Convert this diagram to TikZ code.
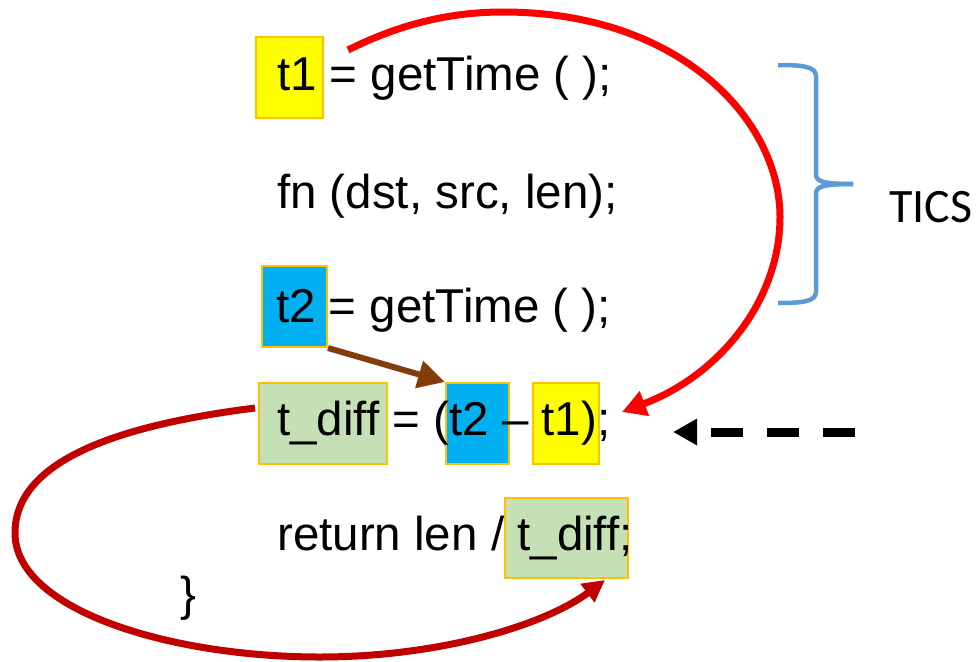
\documentclass[tikz,border=0pt]{standalone}
\usepackage{fontspec}
\setmainfont{Liberation Sans}
\newfontfamily\ticsfont{Carlito}
\usetikzlibrary{arrows.meta}
\definecolor{boxedge}{HTML}{FFC000}
\definecolor{tyellow}{HTML}{FFFF00}
\definecolor{tblue}{HTML}{00B0F0}
\definecolor{tgreen}{HTML}{C5E0B4}
\definecolor{redline}{HTML}{FF0000}
\definecolor{darkredline}{HTML}{C00000}
\definecolor{brownline}{HTML}{843C0C}
\definecolor{bracecol}{HTML}{5B9BD5}
\begin{document}
\begin{tikzpicture}[x=1pt,y=-1pt,
  vbox/.style={draw=boxedge, line width=2pt, inner sep=0pt, minimum height=81pt},
  code/.style={anchor=base west, inner sep=0pt, font=\fontsize{47.5pt}{57pt}\selectfont},
  bracestyle/.style={draw=bracecol, line width=4.5pt},
  redarrow/.style={draw=redline, line width=7pt, -{Triangle[length=24pt,width=25pt]}},
  darkarrow/.style={draw=darkredline, line width=7pt, -{Triangle[length=22pt,width=22pt]}},
  brownarrow/.style={draw=brownline, line width=6pt, -{Triangle[length=27pt,width=27pt]}},
  dasharrow/.style={draw=black, line width=9pt, dash pattern=on 32pt off 24pt, -{Triangle[length=24pt,width=25pt]}}
]
\useasboundingbox (0,0) rectangle (979,661);

% highlight boxes
\node[vbox, fill=tyellow, minimum width=67pt] (t1box) at (289.5,77.5) {};
\node[vbox, fill=tblue, minimum width=65pt] (t2box) at (294.5,306.5) {};
\node[vbox, fill=tgreen, minimum width=128pt] (tdbox) at (323,423.5) {};
\node[vbox, fill=tblue, minimum width=63pt] (t2b) at (477.5,423.5) {};
\node[vbox, fill=tyellow, minimum width=66pt] (t1b) at (566,423.5) {};
\node[vbox, fill=tgreen, minimum width=123pt, minimum height=80pt] (td2) at (566.5,538) {};

% code lines
\node[code] (l1) at (277,90) {t1 = getTime ( );};
\node[code] (l2) at (277,208) {fn (dst, src, len);};
\node[code] (l3) at (276,322) {t2 = getTime ( );};
\node[code] (l4) at (277,435) {t\_diff = (t2 \textendash{} t1);};
\node[code] (l5) at (277,550) {return len / t\_diff;};
\node[code] (l6) at (180,610) {\}};

% TICS label and brace
\node[anchor=base west, inner sep=0pt, font=\ticsfont\fontsize{48pt}{57pt}\selectfont] (tics) at (889,222) {TICS};
\draw[bracestyle] (778,65) .. controls (800,65) and (816,66) .. (816,76) -- (816,174) .. controls (816,181) and (821,184) .. (853,184);
\draw[bracestyle] (853,184) .. controls (821,184) and (816,187) .. (816,194) -- (816,292) .. controls (816,302) and (800,303) .. (778,303);

% red arrow from t1 to the difference line
\coordinate (rs) at (348,50);
\coordinate (rtop) at (503,12);
\coordinate (rright) at (780,217);
\coordinate (re) at (622,412);
\draw[redarrow] (rs) .. controls (400,24) and (450,12) .. (rtop) .. controls (680,12) and (780,120) .. (rright) .. controls (780,300) and (720,375) .. (re);

% brown arrow from t2 to t2 in the difference
\draw[brownarrow] (t2box.south east) -- (t2b.north west);

% dark red loop from t_diff to return
\coordinate (ds) at (255,408);
\coordinate (dl) at (15,533);
\coordinate (db) at (320,657);
\coordinate (de) at (605,580);
\draw[darkarrow] (ds) .. controls (120,425) and (15,460) .. (dl) .. controls (15,610) and (170,657) .. (db) .. controls (440,657) and (545,625) .. (de);

% dashed pointer
\coordinate (dashs) at (855,432);
\coordinate (dashe) at (673,432);
\draw[dasharrow] (dashs) -- (dashe);
\end{tikzpicture}
\end{document}
